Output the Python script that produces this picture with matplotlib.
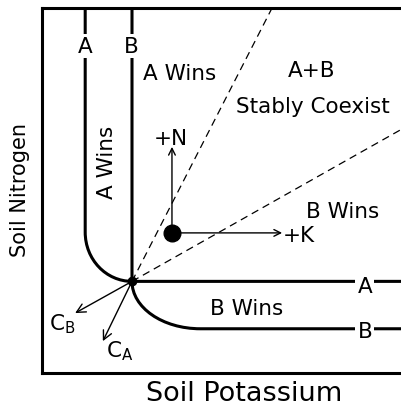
import matplotlib
matplotlib.use('Agg')
import matplotlib.pyplot as plt
from matplotlib.path import Path
from matplotlib.patches import PathPatch

# zero net growth isoclines (vertices of line + bezier corner)
iso_a_x = [12, 12, 12, 17.8, 25, 100]
iso_a_y = [100, 38.5, 31.0, 25, 25, 25]
iso_b_x = [25, 25, 25, 33.5, 44, 100]
iso_b_y = [100, 25, 17.8, 12, 12, 12]
iso_codes = [Path.MOVETO, Path.LINETO, Path.CURVE4, Path.CURVE4, Path.CURVE4, Path.LINETO]

# two-species equilibrium point and consumption vectors
equil = (25, 25)
cons_a = (16.9, 8.6)
cons_b = (9.2, 16.3)

# boundaries of coexistence region
bound_x = [[25, 63.9], [25, 100]]
bound_y = [[25, 100], [25, 66.8]]

# supply point and its increase arrows
supply = (36.1, 38.3)
plus_n = (36.1, 61.9)
plus_k = (66.7, 38.3)

fig = plt.figure(figsize=(4.02, 4.06), dpi=100)
ax = fig.add_axes([42/402, 32.5/406, 360/402, 364.5/406])
ax.set_xlim(0, 100)
ax.set_ylim(0, 100)
ax.set_xticks([])
ax.set_yticks([])
ax.spines['right'].set_visible(False)
for s in ['left', 'top', 'bottom']:
    ax.spines[s].set_linewidth(2.2)

for xs, ys in [(iso_a_x, iso_a_y), (iso_b_x, iso_b_y)]:
    p = Path(list(zip(xs, ys)), iso_codes)
    ax.add_patch(PathPatch(p, facecolor='none', edgecolor='black', lw=2.2, zorder=3))

for xs, ys in zip(bound_x, bound_y):
    ax.plot(xs, ys, color='black', lw=0.9, linestyle=(0, (6, 4)), zorder=2)

arrow = dict(arrowstyle='->', lw=1.0, color='black', mutation_scale=16, shrinkA=0, shrinkB=0)
for tip in [cons_a, cons_b]:
    ax.annotate('', xy=tip, xytext=equil, arrowprops=arrow)
small = dict(arrow, mutation_scale=12)
for tip in [plus_n, plus_k]:
    ax.annotate('', xy=tip, xytext=supply, arrowprops=small)

ax.plot(*equil, 'o', color='black', markersize=6, zorder=5)
ax.plot(*supply, 'o', color='black', markersize=12, zorder=5)

fs = 15.5
white = dict(facecolor='white', edgecolor='none', pad=1.5)
ax.text(12, 87.9, 'A', ha='center', va='baseline', fontsize=fs, bbox=white, zorder=4)
ax.text(24.7, 87.9, 'B', ha='center', va='baseline', fontsize=fs, bbox=white, zorder=4)
ax.text(89.7, 22.1, 'A', ha='center', va='baseline', fontsize=fs, bbox=white, zorder=4)
ax.text(89.7, 9.7, 'B', ha='center', va='baseline', fontsize=fs, bbox=white, zorder=4)

ax.text(38.3, 80.5, 'A Wins', ha='center', va='baseline', fontsize=fs)
ax.text(75, 81.3, 'A+B', ha='center', va='baseline', fontsize=fs)
ax.text(75.3, 71.5, 'Stably Coexist', ha='center', va='baseline', fontsize=fs)
ax.text(83.5, 42.7, 'B Wins', ha='center', va='baseline', fontsize=fs)
ax.text(56.9, 16.0, 'B Wins', ha='center', va='baseline', fontsize=fs)
ax.text(18.1, 58, 'A Wins', ha='center', va='center', rotation=90, fontsize=fs)
ax.text(35.8, 62.7, '+N', ha='center', va='baseline', fontsize=fs)
ax.text(67.0, 36.1, '+K', ha='left', va='baseline', fontsize=fs)
ax.text(5.6, 11.9, r'C$_{\rm B}$', ha='center', va='baseline', fontsize=fs)
ax.text(21.7, 4.3, r'C$_{\rm A}$', ha='center', va='baseline', fontsize=fs)

fig.text(20/402, 1 - 190/406, 'Soil Nitrogen', rotation=90, ha='center', va='center', fontsize=15)
fig.text(244/402, 1 - 394/406, 'Soil Potassium', ha='center', va='center', fontsize=19.5)

fig.savefig('out.png', dpi=100)
